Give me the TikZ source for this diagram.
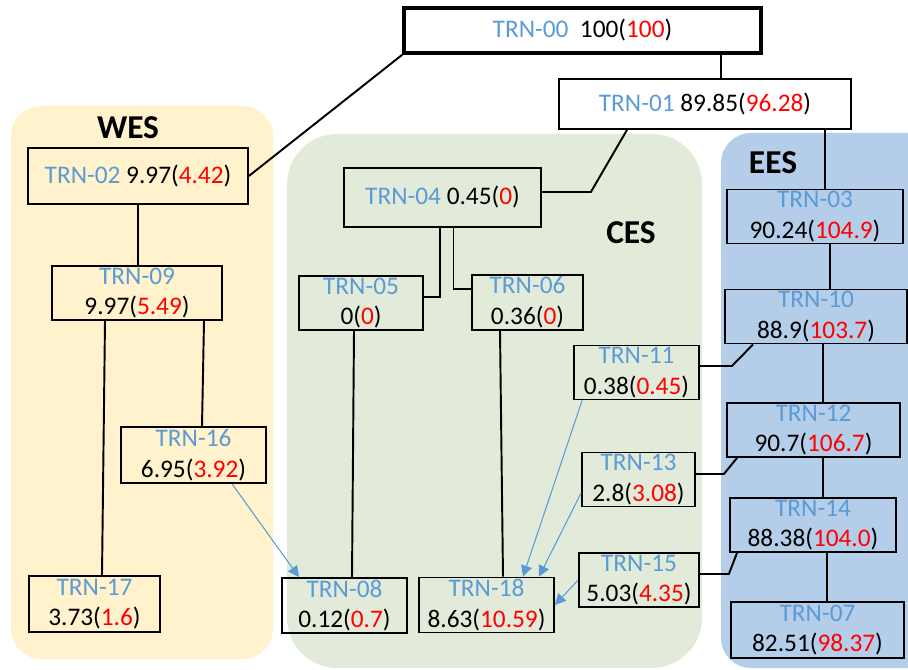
\documentclass[tikz,border=0pt]{standalone}
\usepackage{fontspec}
\setmainfont{Carlito}
\usetikzlibrary{arrows.meta}
\definecolor{trnblue}{HTML}{5B9BD5}
\definecolor{wesfill}{HTML}{FFF2CC}
\definecolor{cesfill}{HTML}{E2EBDA}
\definecolor{eesfill}{HTML}{B4CDE9}
\newcommand{\trn}[1]{\textcolor{trnblue}{#1}}
\newcommand{\rv}[1]{\textcolor{red}{#1}}
\tikzstyle{tb}=[shape=rectangle,
                draw=black,
                line width=1pt,
                align=center,
                inner sep=1pt,
                font=\fontsize{14.4}{17.5}\selectfont]
\tikzstyle{rb}=[tb,
                line width=2pt]
\tikzstyle{reg}=[font=\fontsize{19}{22}\selectfont\bfseries]
\tikzstyle{link}=[line width=1.1pt]
\tikzstyle{flow}=[color=trnblue,
                  line width=0.6pt,
                  -{Triangle[length=2.2mm,width=2.2mm]}]

\begin{document}
\begin{tikzpicture}
\useasboundingbox (0,0) rectangle (18.16,-13.4);

% regions
\fill[wesfill, rounded corners=0.6cm] (0.22,-2.12) rectangle (5.46,-13.18);
\fill[cesfill, rounded corners=1cm] (5.74,-2.68) rectangle (14.04,-13.36);
\begin{scope}
\clip (0,0) rectangle (18.16,-13.4);
\fill[eesfill, rounded corners=0.6cm] (14.42,-2.66) rectangle (18.8,-13.36);
\end{scope}
\node[reg] (wes) at (2.56, -2.56) {WES};
\node[reg] (ces) at (12.62, -4.66) {CES};
\node[reg] (ees) at (15.46, -3.26) {EES};

% top
\node[rb, minimum width=7.14cm, minimum height=0.9cm] (n00) at (11.65, -0.61) {\trn{TRN-00}\ \ 100(\rv{100})};
\node[tb, minimum width=5.84cm, minimum height=1cm] (n01) at (14.1, -2.08) {\trn{TRN-01} 89.85(\rv{96.28})};

% western
\node[tb, minimum width=4.4cm, minimum height=1.12cm] (n02) at (2.76, -3.52) {\trn{TRN-02} 9.97(\rv{4.42})};
\node[tb, minimum width=3.4cm, minimum height=1cm] (n09) at (2.74, -5.86) {\trn{TRN-09}\\9.97(\rv{5.49})};
\node[tb, minimum width=2.9cm, minimum height=1.12cm] (n16) at (3.87, -9.1) {\trn{TRN-16}\\6.95(\rv{3.92})};
\node[tb, minimum width=2.62cm, minimum height=1.12cm] (n17) at (1.89, -12.08) {\trn{TRN-17}\\3.73(\rv{1.6})};

% central
\node[tb, minimum width=3.94cm, minimum height=1.18cm] (n04) at (8.85, -3.95) {\trn{TRN-04} 0.45(\rv{0})};
\node[tb, minimum width=2.48cm, minimum height=0.92cm] (n05) at (7.22, -6.06) {\trn{TRN-05}\\0(\rv{0})};
\node[tb, minimum width=2.22cm, minimum height=0.86cm] (n06) at (10.55, -6.05) {\trn{TRN-06}\\0.36(\rv{0})};
\node[tb, minimum width=2.5cm, minimum height=0.98cm] (n11) at (12.73, -7.45) {\trn{TRN-11}\\0.38(\rv{0.45})};
\node[tb, minimum width=2.26cm, minimum height=0.86cm] (n13) at (12.77, -9.59) {\trn{TRN-13}\\2.8(\rv{3.08})};
\node[tb, minimum width=2.4cm, minimum height=0.96cm] (n15) at (12.78, -11.6) {\trn{TRN-15}\\5.03(\rv{4.35})};
\node[tb, minimum width=2.5cm, minimum height=0.98cm] (n08) at (6.89, -12.11) {\trn{TRN-08}\\0.12(\rv{0.7})};
\node[tb, minimum width=2.7cm, minimum height=1cm] (n18) at (9.73, -12.1) {\trn{TRN-18}\\8.63(\rv{10.59})};

% eastern
\node[tb, minimum width=3.52cm, minimum height=1.02cm] (n03) at (16.3, -4.33) {\trn{TRN-03}\\90.24(\rv{104.9})};
\node[tb, minimum width=3.64cm, minimum height=0.98cm] (n10) at (16.32, -6.33) {\trn{TRN-10}\\88.9(\rv{103.7})};
\node[tb, minimum width=3.46cm, minimum height=1cm] (n12) at (16.27, -8.6) {\trn{TRN-12}\\90.7(\rv{106.7})};
\node[tb, minimum width=3.32cm, minimum height=0.96cm] (n14) at (16.26, -10.5) {\trn{TRN-14}\\88.38(\rv{104.0})};
\node[tb, minimum width=3.46cm, minimum height=1.12cm] (n07) at (16.35, -12.6) {\trn{TRN-07}\\82.51(\rv{98.37})};

% links
\path[link] (n00.south west) edge (n02.east)
            ([xshift=0.32cm]n01.north |- n00.south) edge ([xshift=0.32cm]n01.north)
            ([xshift=2.4cm]n01.south) edge ([xshift=2.4cm]n01.south |- n03.north)
            (n02.south) edge (n02.south |- n09.north)
            ([xshift=-0.64cm]n09.south) edge ([xshift=0.15cm]n17.north)
            ([xshift=1.34cm]n09.south) edge ([xshift=0.17cm]n16.north)
            ([xshift=-0.14cm]n05.south) edge ([xshift=0.15cm]n08.north)
            ([xshift=-0.55cm]n06.south) edge ([xshift=0.33cm]n18.north)
            ([xshift=0.3cm]n03.south) edge ([xshift=0.3cm]n03.south |- n10.north)
            ([xshift=0.14cm]n10.south) edge ([xshift=0.14cm]n10.south |- n12.north)
            ([xshift=0.19cm]n12.south) edge ([xshift=0.19cm]n12.south |- n14.north)
            ([xshift=0.28cm]n14.south) edge ([xshift=0.28cm]n14.south |- n07.north);
\draw[link] ([xshift=-1.56cm]n01.south) -- ([xshift=0.98cm,yshift=0.11cm]n04.east) -- ([yshift=0.11cm]n04.east);
\draw[link] ([xshift=-0.05cm]n04.south) |- ([yshift=0.12cm]n05.east);
\draw[link] ([xshift=0.22cm]n04.south) |- ([yshift=0.27cm]n06.west);
\draw[link] ([xshift=-1.26cm]n10.south) -- ([xshift=0.64cm,yshift=0.13cm]n11.east) -- ([yshift=0.13cm]n11.east);
\draw[link] ([xshift=-1.53cm]n12.south) -- ([xshift=0.56cm,yshift=0.11cm]n13.east) -- ([yshift=0.11cm]n13.east);
\draw[link] ([xshift=-1.52cm]n14.south) -- ([xshift=0.58cm,yshift=0.12cm]n15.east) -- ([yshift=0.12cm]n15.east);

% flows
\draw[flow] ([xshift=0.77cm]n16.south) -- ([xshift=-0.91cm]n08.north);
\draw[flow] ([xshift=0.18cm]n11.south west) -- ([xshift=0.73cm]n18.north);
\draw[flow] ([yshift=-0.27cm]n13.west) -- ([xshift=1.05cm]n18.north);
\draw[flow] (n15.west) -- (n18.east);
\end{tikzpicture}
\end{document}
